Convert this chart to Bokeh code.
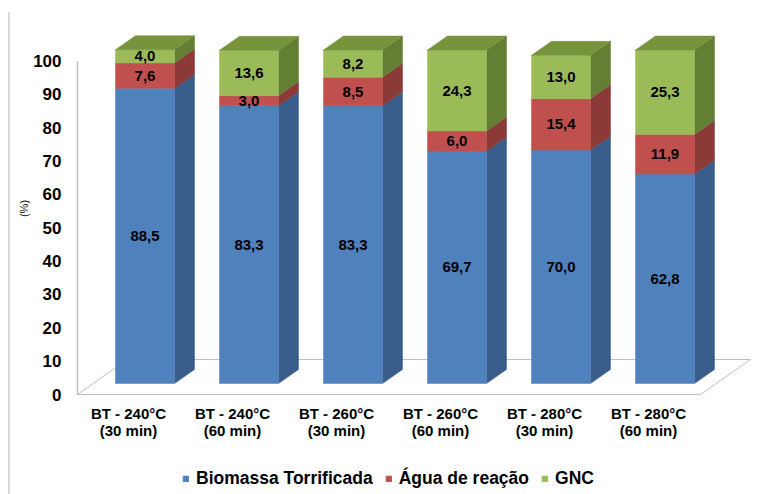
from bokeh.plotting import figure
from bokeh.layouts import column
from bokeh.models import (FixedTicker, Legend, LegendItem, ColumnDataSource)
from bokeh.embed import file_html
from bokeh.resources import INLINE
from bokeh.core.properties import value

# ---------------- data ----------------
categories = ["BT - 240°C\n(30 min)", "BT - 240°C\n(60 min)", "BT - 260°C\n(30 min)",
              "BT - 260°C\n(60 min)", "BT - 280°C\n(30 min)", "BT - 280°C\n(60 min)"]
biomassa = [88.5, 83.3, 83.3, 69.7, 70.0, 62.8]
agua = [7.6, 3.0, 8.5, 6.0, 15.4, 11.9]
gnc = [4.0, 13.6, 8.2, 24.3, 13.0, 25.3]
series_names = ["Biomassa Torrificada", "Água de reação", "GNC"]
y_ticks = [0, 10, 20, 30, 40, 50, 60, 70, 80, 90, 100]

# ---------------- style ----------------
FRONT = ["#4f81bd", "#c0504d", "#9bbb59"]
SIDE = ["#385d8a", "#8c3a38", "#647e34"]
TOP = ["#4a76a8", "#a94644", "#77933c"]
FONT = "Liberation Sans"

# geometry (frame mapping: 104 px per category, 3.335 px per %)
PXX, PXY = 104.0, 3.335
FLOOR_X0, FLOOR_X1 = -51 / PXX, 5.5
FLOOR_DX, FLOOR_DY = 50 / PXX, 35 / PXY
BAR_OFF, BAR_W, BAR_BASE = -13 / PXX, 59 / PXX, 11 / PXY
DX, DY = 20 / PXX, 14 / PXY

OFF_L, OFF_T = 10, 12          # offset of the chart area (border line)
W = 779 - OFF_L
H_LEG = 40
H = 494 - OFF_T - H_LEG
FRAME_L, FRAME_R, FRAME_T, FRAME_B = 70, 760, 20, 396   # absolute px
ML, MR = FRAME_L - OFF_L, 779 - FRAME_R
MT, MB = FRAME_T - OFF_T, (OFF_T + H) - FRAME_B
x0 = (FRAME_L - 128) / PXX
x1 = (FRAME_R - 128) / PXX
y0 = -(FRAME_B - 394) / PXY
y1 = (394 - FRAME_T) / PXY

p = figure(width=W, height=H, output_backend="svg", toolbar_location=None,
           x_range=(x0, x1), y_range=(y0, y1),
           min_border_left=ML, min_border_right=MR, min_border_top=MT,
           min_border_bottom=MB, background_fill_color="white",
           border_fill_color="white", outline_line_color=None)
p.grid.visible = False

# floor
p.patch([FLOOR_X0, FLOOR_X1, FLOOR_X1 + FLOOR_DX, FLOOR_X0 + FLOOR_DX],
        [0, 0, FLOOR_DY, FLOOR_DY], fill_color="white",
        line_color="#bfbfbf", line_width=1)
# vertical axis line
p.segment(x0=[FLOOR_X0], y0=[0], x1=[FLOOR_X0], y1=[100],
          line_color="#bfbfbf", line_width=1.5)

series = [biomassa, agua, gnc]
n = len(categories)
bottoms = [0.0] * n
label_x, label_y, label_t = [], [], []
for s, vals in enumerate(series):
    lefts = [i + BAR_OFF for i in range(n)]
    rights = [i + BAR_OFF + BAR_W for i in range(n)]
    bots = [BAR_BASE + bottoms[i] for i in range(n)]
    tops = [BAR_BASE + bottoms[i] + vals[i] for i in range(n)]
    # side faces
    sx, sy = [], []
    for i in range(n):
        sx.append([rights[i], rights[i] + DX, rights[i] + DX, rights[i]])
        sy.append([bots[i], bots[i] + DY, tops[i] + DY, tops[i]])
    p.patches(sx, sy, fill_color=SIDE[s], line_color=SIDE[s], line_width=0.5)
    p.quad(left=lefts, right=rights, bottom=bots, top=tops,
           fill_color=FRONT[s], line_color=FRONT[s], line_width=0.5)
    for i in range(n):
        label_x.append(i + BAR_OFF + BAR_W / 2)
        label_y.append((bots[i] + tops[i]) / 2)
        label_t.append(f"{vals[i]:.1f}".replace(".", ","))
    bottoms = [bottoms[i] + vals[i] for i in range(n)]

# top faces
tx, ty = [], []
for i in range(n):
    l = i + BAR_OFF
    r_ = l + BAR_W
    t = BAR_BASE + bottoms[i]
    tx.append([l, r_, r_ + DX, l + DX])
    ty.append([t, t, t + DY, t + DY])
p.patches(tx, ty, fill_color=TOP[2], line_color=TOP[2], line_width=0.5)

src = ColumnDataSource(dict(x=label_x, y=label_y, t=label_t))
p.text("x", "y", text="t", source=src, text_align="center",
       text_baseline="middle", text_font=value(FONT), text_font_style="bold",
       text_font_size="15px", text_color="black")

# axes
p.yaxis.ticker = FixedTicker(ticks=y_ticks)
p.yaxis.axis_line_color = None
p.yaxis.major_tick_line_color = None
p.yaxis.minor_tick_line_color = None
p.yaxis.major_label_standoff = 3
p.yaxis.major_label_text_font = FONT
p.yaxis.major_label_text_font_style = "bold"
p.yaxis.major_label_text_font_size = "17px"
p.yaxis.major_label_text_color = "black"
p.yaxis.axis_label = "(%)"
p.yaxis.axis_label_text_font = FONT
p.yaxis.axis_label_text_font_style = "normal"
p.yaxis.axis_label_text_font_size = "11px"
p.yaxis.axis_label_text_color = "black"
p.yaxis.axis_label_standoff = 0

p.xaxis.ticker = FixedTicker(ticks=list(range(n)))
p.xaxis.major_label_overrides = {i: c for i, c in enumerate(categories)}
p.xaxis.axis_line_color = None
p.xaxis.major_tick_line_color = None
p.xaxis.minor_tick_line_color = None
p.xaxis.major_label_standoff = 2
p.xaxis.major_label_text_font = FONT
p.xaxis.major_label_text_font_style = "bold"
p.xaxis.major_label_text_font_size = "15px"
p.xaxis.major_label_text_line_height = 1.0
p.xaxis.major_label_text_color = "black"

# legend strip (own plot area below the chart); its swatch glyphs sit
# outside the strip's visible range so only the legend shows
pl = figure(width=W, height=H_LEG, output_backend="svg", toolbar_location=None,
            x_range=(0, 1), y_range=(0, 1), x_axis_location=None,
            y_axis_location=None, min_border=0, outline_line_color=None,
            background_fill_color="white", border_fill_color="white")
pl.grid.visible = False
leg_renderers = [pl.quad(left=[-3], right=[-2], bottom=[-3], top=[-2],
                         fill_color=FRONT[s], line_color=FRONT[s])
                 for s in range(3)]
legend = Legend(items=[LegendItem(label=series_names[s], renderers=[leg_renderers[s]])
                       for s in range(3)],
                orientation="horizontal", location=(112, 5),
                border_line_color=None, background_fill_alpha=0,
                label_text_font=FONT, label_text_font_style="bold",
                label_text_font_size="17.5px", label_text_color="black",
                glyph_width=7, glyph_height=7,
                label_standoff=7, spacing=12, padding=0, margin=0)
pl.add_layout(legend)

layout = column(p, pl, margin=(OFF_T, 0, 0, OFF_L - 2),
                styles={"border-left": "2px solid #d9d9d9"})

open("out.html", "w").write(file_html(layout, INLINE))
